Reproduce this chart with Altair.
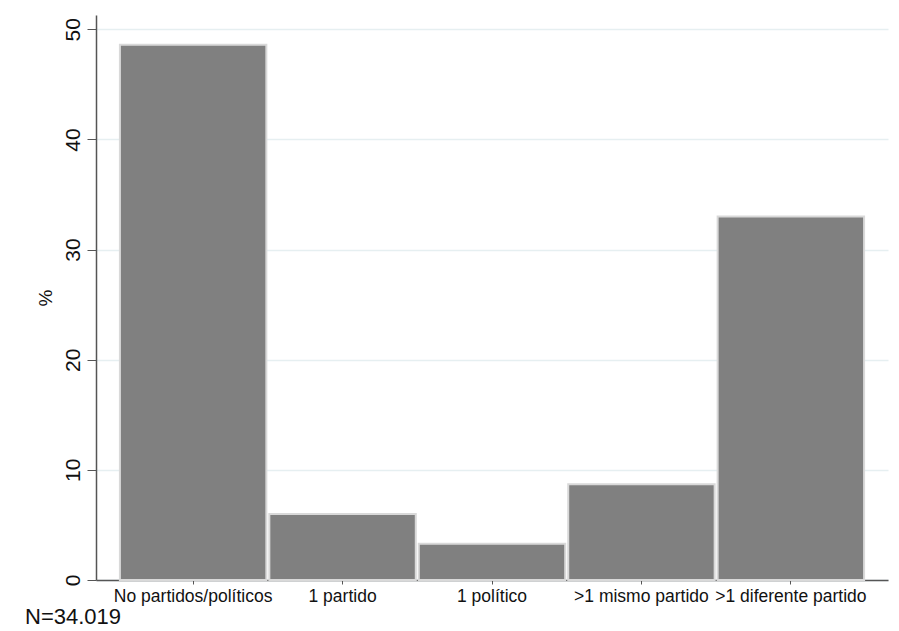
import altair as alt
import pandas as pd

categories = ["No partidos/políticos", "1 partido", "1 político", ">1 mismo partido", ">1 diferente partido"]
percent = [48.6, 6.0, 3.3, 8.7, 33.0]
y_ticks = [0, 10, 20, 30, 40, 50]
note = "N=34.019"

df = pd.DataFrame({"cat": categories, "pct": percent})

FONT = "Liberation Sans"

chart = alt.Chart(df).mark_bar(
    color="#808080", stroke="#d9d9d9", strokeWidth=2
).encode(
    x=alt.X(
        "cat:N", sort=categories, title=None,
        scale=alt.Scale(paddingInner=0.02, paddingOuter=0.16),
        axis=alt.Axis(
            labelAngle=0, labelFontSize=17.5, labelColor="#111111", labelFont=FONT,
            domainColor="#555555", domainWidth=1.5, tickColor="#555555", tickSize=4,
            labelPadding=3, grid=False,
        ),
    ),
    y=alt.Y(
        "pct:Q", title="%",
        scale=alt.Scale(domain=[0, 51.3], nice=False, zero=True),
        axis=alt.Axis(
            values=y_ticks, labelAngle=270, labelAlign="center", labelBaseline="alphabetic",
            labelFontSize=21, labelFont=FONT, labelColor="#111111", labelPadding=8,
            tickSize=9, tickColor="#555555", domainColor="#555555", domainWidth=1.5,
            grid=True, gridColor="#e6eff1", gridWidth=1.5,
            titleAngle=270, titleFont=FONT, titleFontSize=19, titleFontWeight="normal",
            titleColor="#111111", titlePadding=7,
        ),
    ),
).properties(
    width=792,
    height=565,
    padding={"left": 88, "top": 7, "right": 3, "bottom": 51},
    autosize=alt.AutoSizeParams(type="none"),
    title=alt.TitleParams(
        note, orient="bottom", anchor="start", frame="group", dx=-71, offset=19,
        baseline="alphabetic",
        fontSize=22, fontWeight="normal", font=FONT, color="#111111",
    ),
).configure(background="white").configure_view(stroke=None)

chart.save("out.html", embed_options={"renderer": "svg", "actions": False})
